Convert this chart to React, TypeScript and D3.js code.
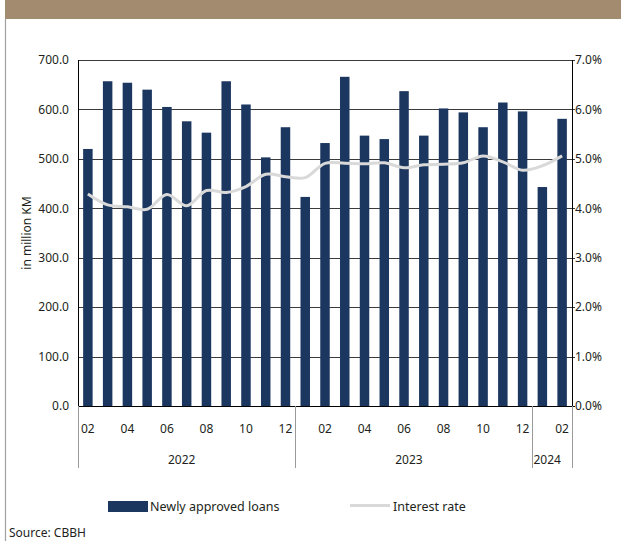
import React from "react";
import * as d3 from "d3";

const periods = [
  "2022-02","2022-03","2022-04","2022-05","2022-06","2022-07","2022-08","2022-09","2022-10","2022-11","2022-12",
  "2023-01","2023-02","2023-03","2023-04","2023-05","2023-06","2023-07","2023-08","2023-09","2023-10","2023-11","2023-12",
  "2024-01","2024-02",
];
const loans = [520, 657, 654, 640, 605, 576, 553, 657, 610, 503, 564, 423, 532, 666, 547, 540, 637, 547, 602, 594, 564, 614, 596, 443, 581];
const rates = [4.29, 4.07, 4.03, 3.98, 4.28, 4.05, 4.36, 4.32, 4.44, 4.69, 4.64, 4.62, 4.91, 4.91, 4.90, 4.92, 4.82, 4.88, 4.89, 4.92, 5.06, 4.94, 4.77, 4.86, 5.06];
const years = ["2022", "2023", "2024"];
const leftTicks = [0, 100, 200, 300, 400, 500, 600, 700];
const rightTicks = [0, 1, 2, 3, 4, 5, 6, 7];

const FONT = "'Noto Sans', sans-serif";
const TXT = "#231f20";
const NAVY = "#1c375f";

export default function App() {
  const W = 621, H = 541;
  const x0 = 78, x1 = 572, yTop = 60, yBot = 406;
  const x = d3.scaleBand<string>().domain(periods).range([x0, x1]).paddingInner(0.52).paddingOuter(0.26);
  const yL = d3.scaleLinear().domain([0, 700]).range([yBot, yTop]);
  const yR = d3.scaleLinear().domain([0, 7]).range([yBot, yTop]);
  const cx = (p: string) => (x(p) as number) + x.bandwidth() / 2;
  const line = d3.line<number>()
    .x((_, i) => cx(periods[i]))
    .y((d) => yR(d))
    .curve(d3.curveCatmullRom.alpha(0.5));
  const step = x.step();

  const groups = years.map((yr) => {
    const idx = periods.map((p, i) => (p.startsWith(yr) ? i : -1)).filter((i) => i >= 0);
    return { yr, first: idx[0], last: idx[idx.length - 1] };
  });
  const boundary = (i: number) => (i === 0 ? x0 : (x(periods[i]) as number) - (step - x.bandwidth()) / 2);
  const boundaries = groups.map((g) => boundary(g.first));
  boundaries.push(x1);

  return (
    <svg width={W} height={H} style={{ position: "absolute", left: 0, top: 0, background: "#fff" }} fontFamily={FONT}>
      <rect x={5} y={0} width={W - 5} height={19} fill="#a38b70" />
      <line x1={5.5} y1={19} x2={5.5} y2={H} stroke="#a0a0a0" strokeWidth={1.2} />

      {leftTicks.map((t) => (
        <line key={"g" + t} x1={x0} x2={x1 + 3} y1={Math.round(yL(t)) + 0.5} y2={Math.round(yL(t)) + 0.5} stroke={t === 0 ? "#000" : "#3a3a3a"} strokeWidth={1} />
      ))}
      {leftTicks.map((t) => (
        <text key={"l" + t} x={69} y={yL(t) + 4.3} textAnchor="end" fontSize={12} fill={TXT}>{t.toFixed(1)}</text>
      ))}
      {rightTicks.map((t) => (
        <text key={"r" + t} x={575} y={yR(t) + 4.3} textAnchor="start" fontSize={12} fill={TXT}>{t.toFixed(1) + "%"}</text>
      ))}
      <text transform={`translate(31,${(yTop + yBot) / 2}) rotate(-90)`} textAnchor="middle" fontSize={12} fill={TXT}>in million KM</text>

      {periods.map((p, i) => (
        <rect key={p} x={x(p)} y={yL(loans[i])} width={x.bandwidth()} height={yBot - yL(loans[i])} fill={NAVY} />
      ))}

      <path d={line(rates) || ""} fill="none" stroke="#d9d9d9" strokeWidth={3} />

      <line x1={x0 + 0.5} x2={x0 + 0.5} y1={yTop} y2={yBot} stroke="#000" strokeWidth={1} />
      <line x1={x1 + 0.5} x2={x1 + 0.5} y1={yTop} y2={yBot} stroke="#000" strokeWidth={1} />
      {boundaries.map((b, i) => (
        <line key={"b" + i} x1={Math.round(b) + 0.5} x2={Math.round(b) + 0.5} y1={yBot} y2={468} stroke="#9a9a9a" strokeWidth={1} />
      ))}

      {periods.map((p) => {
        const m = p.slice(5);
        if (parseInt(m, 10) % 2 !== 0) return null;
        return (
          <text key={"m" + p} x={cx(p)} y={433} textAnchor="middle" fontSize={12} fill={TXT}>{m}</text>
        );
      })}
      {groups.map((g, i) => (
        <text key={g.yr} x={(boundaries[i] + boundaries[i + 1]) / 2 - 5} y={464} textAnchor="middle" fontSize={12} fill={TXT}>{g.yr}</text>
      ))}

      <rect x={108} y={501} width={40} height={11} fill={NAVY} />
      <text x={150} y={511} fontSize={12.5} fill={TXT}>Newly approved loans</text>
      <line x1={350} x2={390} y1={505.5} y2={505.5} stroke="#d9d9d9" strokeWidth={3} />
      <text x={393} y={511} fontSize={12.5} fill={TXT}>Interest rate</text>

      <text x={9} y={536.5} fontSize={12} fill={TXT}>Source: CBBH</text>
    </svg>
  );
}
